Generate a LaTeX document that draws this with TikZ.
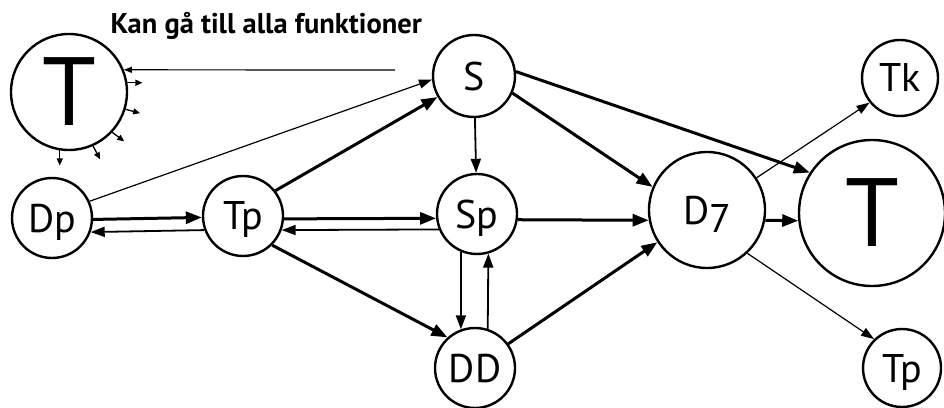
\documentclass[tikz,border=0pt]{standalone}
\usepackage{fontspec}
\setmainfont{PT Sans}
\usetikzlibrary{arrows.meta}
\begin{document}
\begin{tikzpicture}[x=1pt,y=1pt,
    fn/.style={draw,circle,line width=2.4pt,inner sep=0pt,text depth=0pt,
      minimum size=80pt,font=\fontsize{40}{40}\selectfont},
    bigfn/.style={fn,font=\fontsize{97}{97}\selectfont},
    strong/.style={line width=3pt,-{Triangle[length=16pt,width=12pt]}},
    weak/.style={line width=1.8pt,-{Triangle[length=14pt,width=10pt]}},
    faint/.style={line width=1.2pt,-{Triangle[length=13pt,width=9pt]}},
    stub/.style={line width=1.3pt,-{Triangle[length=7pt,width=6pt]}}]
      \useasboundingbox (0,0) rectangle (944,407);
      \draw
        (107,373) node[anchor=base west,font=\fontsize{28.5}{28.5}\selectfont\bfseries] (note){Kan gå till alla funktioner}
        (69,315) node[bigfn,minimum size=116pt] (T1){T}
        (52,189) node[fn] (Dp){Dp}
        (243,191) node[fn] (Tp){Tp}
        (474,331) node[fn,minimum size=82pt] (S){S}
        (477,193) node[fn] (Sp){Sp}
        (475,39) node[fn] (DD){DD}
        (707,197) node[fn,minimum size=116pt] (D7){D\raisebox{-0.22em}{7}}
        (872,194) node[bigfn,minimum size=146pt] (T2){T}
        (900,329) node[fn,minimum size=76pt] (Tk){Tk}
        (902,39) node[fn,minimum size=78pt] (Tp2){Tp};
      \coordinate (from) at (395,337);
      \draw[line width=1.2pt,-{Triangle[length=8pt,width=6pt]}] (from) -- (T1.22);
      \foreach \a/\d in {9/0,-17/-15,-43/-37,-66/-62,-99/-90}
        \draw[stub] (T1.\a) -- ++(\d:15);
      \begin{scope}
        \draw[faint] (Dp.24) to (S.185);
        \draw[strong] (Tp.38) to (S.210);
        \draw[strong] (Dp.-2) to (Tp.182);
        \draw[weak] (Tp.200) to (Dp.-20);
        \draw[strong] (Tp.-4) to (Sp.186);
        \draw[weak] (Sp.202) to (Tp.-20);
        \draw[strong] (Tp.-45) to (DD.132);
        \draw[weak] (S) to (Sp);
        \draw[weak] (Sp.-113) to (DD.110);
        \draw[weak] (DD.72) to (Sp.-74);
        \draw[strong] (S.-24) to (D7.157);
        \draw[strong] (S.6) to (T2.147);
        \draw[strong] (Sp.-8) to (D7.190);
        \draw[strong] (DD.36) to (D7.213);
        \draw[strong] (D7.-10) to (T2.186);
        \draw[faint] (D7.33) to (Tk.219);
        \draw[faint] (D7.-47) to (Tp2.134);
      \end{scope}
    \end{tikzpicture}
\end{document}
